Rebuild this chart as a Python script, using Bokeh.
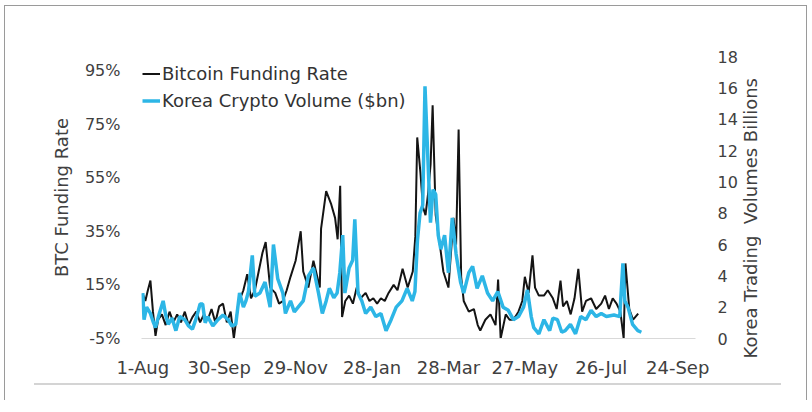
import pandas as pd
from bokeh.plotting import figure
from bokeh.models import Range1d, LinearAxis, FixedTicker, PrintfTickFormatter, Div
from bokeh.layouts import column, row
from bokeh.embed import file_html
from bokeh.resources import INLINE

# ---------------- data ----------------
start_date = "2023-08-01"
tick_dates = ["2023-08-01", "2023-09-30", "2023-11-29", "2024-01-28",
              "2024-03-28", "2024-05-27", "2024-07-26", "2024-09-24"]
tick_labels = ["1-Aug", "30-Sep", "29-Nov", "28-Jan", "28-Mar", "27-May", "26-Jul", "24-Sep"]
rate_ticks = [-5, 15, 35, 55, 75, 95]
vol_ticks = [0, 2, 4, 6, 8, 10, 12, 14, 16, 18]
right_title = "Korea Trading  Volumes Billions"

# Bitcoin funding rate (%), days since 1-Aug-2023
btc_day = [0, 2, 4, 6, 8, 10, 12, 15, 18, 21,
           24, 27, 30, 33, 36, 39, 42, 45, 48, 51,
           54, 57, 60, 63, 66, 69, 71.5, 75, 79, 82,
           85, 88, 91, 94, 96.5, 100, 104, 107, 110, 113,
           116, 120, 124, 126, 130, 134, 137, 139, 140, 144,
           148, 151, 153, 155, 156.5, 159, 162, 165, 168, 171,
           175, 178, 181, 184, 187, 190, 193, 197, 200, 204,
           208, 212, 214, 215.5, 218, 220, 222, 224, 226, 227.6,
           230, 233, 236, 240, 244, 246, 248, 250, 252, 256,
           260, 263, 265, 269, 273, 277, 279, 281, 285, 288,
           291, 295, 298, 300, 303, 306, 308, 311, 315, 318,
           322, 325, 328, 330, 333, 336, 339, 342, 345, 348,
           352, 356, 360, 363, 366, 369, 372, 375, 377.6, 379,
           382, 385, 389]
btc_rate = [11.7, 9, 13, 16.6, 5, -4, 2, 4, 0, 5,
            1, 4, 1, 5, 0, 3, 5, 1, 4, 2,
            6, 1, 7, 8, 1, 5, -5, 8, 13, 19,
            10, 13, 20, 27, 31, 14, 12, 8, 9, 13,
            18, 24, 35, 20, 14, 24, 18, 14, 36, 50,
            45, 40, 32, 52, 3, 9, 11, 8, 14, 10,
            12, 9, 10, 8, 10, 9, 12, 15, 13, 21,
            14, 20, 33, 70, 57, 44, 41, 49, 60, 82,
            41, 31, 20, 14, 40, 30, 73, 18, 9, 5,
            6, 0, -2, 2, 4, 0, 17, -5, 4, 2,
            2, 5, 9, 18, 12, 26, 14, 11, 11, 13,
            10, 6, 16.6, 7, 9, 4, 10, 21, 5, 9,
            10, 6, 8, 11, 6, 10, 8, 5, -5, 23,
            6, 2, 4.3]

# Korea crypto volume ($bn), days since 1-Aug-2023
vol_day = [0, 1, 3, 6, 8, 10, 13, 16, 18, 20,
           23, 26, 29, 33, 36, 39, 42, 45, 47, 49,
           51, 55, 59, 63, 67, 70, 73, 76, 79, 81,
           83, 86, 88, 92, 96, 100, 102.6, 106, 110, 112,
           116, 119, 122, 126, 130, 134, 138, 141, 144, 146.5,
           150, 152.6, 154.7, 157, 158.7, 162, 164.8, 166.5, 169, 172,
           175, 179, 183, 187, 191, 195, 199, 203.5, 207.6, 211.6,
           213.7, 215.7, 217.7, 219.8, 221.6, 223.9, 225.9, 227.9, 230, 232,
           234, 237, 240, 243, 246, 249.5, 252, 256, 259, 262.5,
           266.6, 270.7, 274.7, 278.8, 282.9, 287, 291, 295, 299, 302,
           305, 307, 311, 315, 319.5, 322, 325.6, 329, 331.7, 335.8,
           339.8, 343.9, 348, 352, 356, 360, 364, 370, 374.5, 377,
           378.5, 381, 384.6, 388.7, 391.5]
vol_bn = [2.9, 1.2, 2.0, 1.6, 1.1, 0.7, 1.6, 2.4, 1.5, 0.9,
          1.3, 0.5, 1.4, 1.2, 0.8, 0.6, 1.3, 2.2, 2.2, 1.0,
          1.4, 0.8, 1.2, 1.5, 1.2, 0.8, 0.9, 2.9, 2.0, 2.4,
          3.0, 5.3, 2.7, 2.9, 3.6, 2.0, 6.0, 3.8, 2.9, 1.6,
          2.4, 1.7, 2.0, 2.4, 4.0, 4.5, 2.9, 1.6, 2.4, 3.2,
          2.6, 2.9, 4.2, 6.6, 2.9, 4.5, 5.0, 7.6, 2.9, 2.4,
          1.6, 2.0, 1.4, 1.6, 0.5, 1.2, 2.0, 2.4, 3.2, 2.4,
          3.0, 6.3, 8.0, 8.5, 16.1, 11.4, 7.4, 9.5, 9.2, 6.6,
          5.7, 6.6, 4.2, 7.7, 5.4, 3.6, 2.9, 4.2, 4.6, 3.2,
          4.0, 2.9, 2.4, 3.0, 2.0, 1.8, 1.2, 1.4, 2.0, 3.1,
          1.4, 0.7, 0.3, 1.2, 0.5, 1.3, 1.2, 0.4, 0.5, 0.9,
          0.3, 1.4, 1.2, 1.8, 1.4, 1.6, 1.4, 1.5, 1.4, 4.8,
          2.4, 2.0, 0.9, 0.5, 0.4]

# ---------------- build ----------------
start = pd.Timestamp(start_date)
btc_x = start + pd.to_timedelta(btc_day, unit="D")
vol_x = start + pd.to_timedelta(vol_day, unit="D")
tick_ms = [int(pd.Timestamp(d).value // 10**6) for d in tick_dates]

FONT = "DejaVu Sans"
TXT = "#404040"

p = figure(x_axis_type="datetime", width=735, height=374,
           output_backend="svg", toolbar_location=None,
           x_range=Range1d(pd.Timestamp("2023-07-31"), pd.Timestamp("2024-10-08")),
           y_range=Range1d(-5, 100.2),
           min_border_left=136, min_border_right=45,
           min_border_top=50, min_border_bottom=42)
p.extra_y_ranges = {"vol": Range1d(0, 18)}

p.line(btc_x, btc_rate, line_color="#141414", line_width=2,
       legend_label="Bitcoin Funding Rate")
p.line(vol_x, vol_bn, line_color="#2DB6E6", line_width=3.5,
       y_range_name="vol", legend_label="Korea Crypto Volume ($bn)")

p.xgrid.visible = False
p.ygrid.visible = False
p.outline_line_color = None

xa = p.xaxis[0]
xa.ticker = FixedTicker(ticks=tick_ms)
xa.major_label_overrides = {t: l for t, l in zip(tick_ms, tick_labels)}
xa.axis_line_color = "#d9d9d9"
xa.major_label_standoff = 18

ya = p.yaxis[0]
ya.ticker = FixedTicker(ticks=rate_ticks)
ya.formatter = PrintfTickFormatter(format="%d%%")
ya.axis_label = "BTC Funding Rate"
ya.major_label_standoff = 21
ya.axis_label_standoff = 10

ra = LinearAxis(y_range_name="vol", ticker=FixedTicker(ticks=vol_ticks))
ra.major_label_standoff = 22
p.add_layout(ra, "right")

for ax in (xa, ya, ra):
    ax.major_label_text_font = FONT
    ax.major_label_text_font_size = "16px"
    ax.major_label_text_color = TXT
    ax.axis_label_text_font = FONT
    ax.axis_label_text_font_size = "18px"
    ax.axis_label_text_color = TXT
    ax.axis_label_text_font_style = "normal"
    ax.major_tick_out = 0
    ax.major_tick_in = 0
    ax.minor_tick_out = 0
    ax.minor_tick_in = 0
    ax.major_tick_line_color = None
    ax.minor_tick_line_color = None
xa.major_label_text_font_size = "18px"
for ax in (ya, ra):
    ax.axis_line_color = None

lg = p.legend[0]
lg.location = (1, 226)
lg.label_text_font = FONT
lg.label_text_font_size = "18px"
lg.label_text_color = "#333333"
lg.glyph_width = 18
lg.glyph_height = 23
lg.label_height = 23
lg.label_standoff = 2
lg.spacing = 4
lg.padding = 0
lg.margin = 0
lg.border_line_color = None
lg.background_fill_alpha = 0

# right-hand axis title (reads bottom-to-top)
title_div = Div(
    text=('<div style="width:22px;height:374px;box-sizing:border-box;padding-top:50px;'
          'display:flex;align-items:center;justify-content:center;">'
          '<span style="writing-mode:vertical-rl;transform:rotate(180deg);white-space:pre;'
          f'font-family:\'{FONT}\';font-size:18px;color:{TXT};line-height:1;">'
          f'{right_title}</span></div>'),
    width=66, height=374, margin=0)

rule_div = Div(text='<div style="position:absolute;left:29px;top:3px;width:747px;'
                    'height:2px;background:#d4d4d4;"></div>',
               width=801, height=20, margin=0)

layout = column(row(p, title_div), rule_div, margin=(5, 0, 0, 4),
                styles={"border-left": "1px solid #9a9a9a",
                        "border-top": "1px solid #9a9a9a",
                        "border-right": "1px solid #9a9a9a"})

open("out.html", "w").write(file_html(layout, INLINE))
